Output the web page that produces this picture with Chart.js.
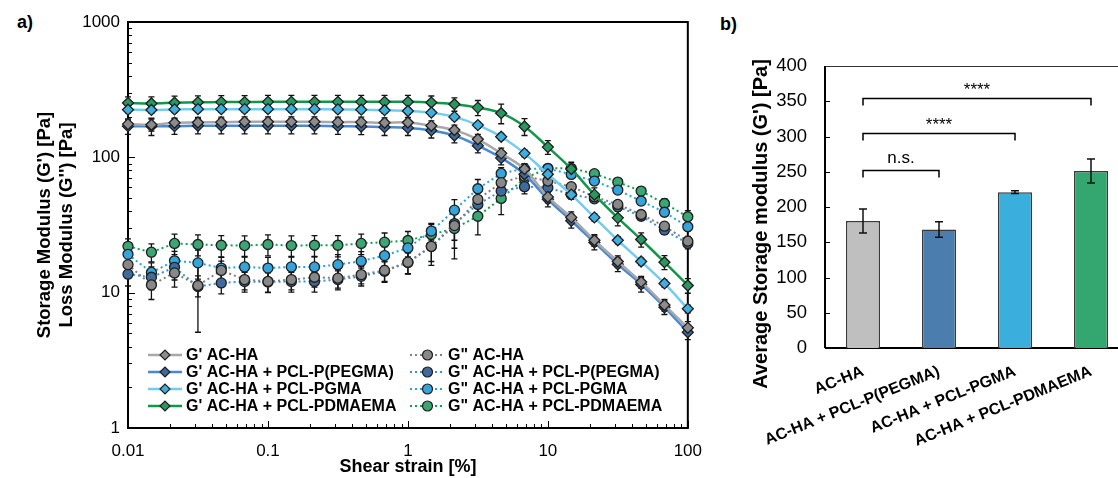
<!DOCTYPE html>
<html>
<head>
<meta charset="utf-8">
<script src="https://cdn.jsdelivr.net/npm/chart.js@4.4.1/dist/chart.umd.min.js"></script>
<style>
  body { margin: 0; width: 1118px; height: 478px; overflow: hidden; background: #fff; position: relative; font-family: "Liberation Sans", Arial, sans-serif; }
  #chartA { position: absolute; left: 0; top: 0; }
  #chartB { position: absolute; left: 715px; top: 0; }
  .panel { position: absolute; font-weight: bold; font-size: 18px; color: #000; }
</style>
</head>
<body>
<div class="panel" style="left:17px;top:12px">a)</div>
<div class="panel" style="left:720px;top:14px">b)</div>
<canvas id="chartA" width="715" height="478"></canvas>
<canvas id="chartB" width="430" height="478"></canvas>
<script>
// ---- panel a data: amplitude sweep ----
const strain = [0.01, 0.0147, 0.0215, 0.0316, 0.0464, 0.0681, 0.1, 0.147, 0.215, 0.316, 0.464, 0.681,
  1, 1.47, 2.15, 3.16, 4.64, 6.81, 10, 14.7, 21.5, 31.6, 46.4, 68.1, 100]
const xTicks = [0.01, 0.1, 1, 10, 100]
const yTicks = [1, 10, 100, 1000]

const gpAcha = [176, 174, 180, 181, 182, 183, 183, 183, 183, 182, 182, 180, 181, 171, 159, 136, 107, 82, 51, 36, 24.4, 17, 12, 8.1, 5.5]
const gpPegma = [170, 170, 170, 171, 171, 171, 171, 171, 171, 170, 169, 167, 165, 158, 145, 122, 99, 75, 49, 34, 23.5, 16.2, 11.5, 7.8, 5.1]
const gpPgma = [225, 224, 226, 227, 227, 227, 227, 227, 227, 226, 225, 223, 220, 214, 199, 173, 142, 107, 75, 53, 36, 24.4, 17, 11.7, 7.6]
const gpPdmaema = [252, 250, 253, 255, 256, 256, 257, 257, 257, 257, 257, 257, 257, 254, 247, 233, 212, 169, 119, 82, 53, 35.7, 24.7, 16.8, 11.3]

const gppAcha = [16.1, 11.4, 14.0, 11.3, 14.6, 12.5, 12.1, 12.5, 13.0, 12.8, 13.6, 14.6, 16.8, 22.0, 31.3, 48.9, 65.0, 72.7, 66.8, 60.7, 51.2, 44.9, 37.8, 31.0, 24.0]
const gppPegma = [13.7, 13.0, 15.4, 11.1, 11.8, 12.1, 12.0, 12.1, 12.1, 12.5, 13.2, 14.4, 16.7, 21.9, 32.4, 44.9, 56.3, 60.7, 59.7, 53.2, 49.4, 43.1, 36.7, 29.0, 23.1]
const gppPgma = [19.2, 14.1, 17.2, 16.6, 15.2, 15.5, 15.2, 15.5, 15.5, 16.1, 17.1, 18.8, 21.4, 28.5, 40.7, 58.6, 76.0, 82.5, 82.5, 74.8, 66.8, 57.3, 47.5, 39.3, 30.7]
const gppPdmaema = [22.0, 19.9, 23.1, 22.7, 22.4, 22.3, 22.7, 22.3, 22.4, 22.4, 23.1, 23.6, 24.3, 26.9, 29.8, 36.7, 49.7, 69.9, 83.0, 83.0, 75.7, 65.6, 56.3, 45.6, 36.4]

// standard deviations, same order
const gpAchaErr = [12, 18, 15, 16, 16, 16, 16, 16, 16, 16, 16, 16, 16, 15, 14, 12, 10, 8, 5, 3.5, 2.4, 1.7, 1.2, 0.8, 0.6]
const gpPegmaErr = [22, 25, 22, 22, 22, 22, 22, 22, 22, 22, 22, 22, 20, 19, 17, 14, 11, 8, 6, 4, 2.8, 1.9, 1.4, 0.9, 0.6]
const gpPgmaErr = [12, 12, 12, 12, 12, 12, 12, 12, 12, 12, 12, 12, 11, 11, 10, 9, 8, 6, 4.5, 3.2, 2.2, 1.5, 1.0, 0.7, 0.5]
const gpPdmaemaErr = [28, 30, 30, 30, 30, 30, 30, 30, 30, 30, 30, 30, 30, 30, 28, 30, 35, 24, 14, 10, 6.5, 4.5, 3, 2, 1.4]
const gppAchaErr = [3, 2.5, 3, 2, 2.5, 2, 2, 2, 2, 2, 2, 2.5, 3, 5, 10, 12, 10, 8, 5, 4, 3, 3, 2.5, 2, 2]
const gppPegmaErr = [2.5, 2.5, 3, 6, 2, 2, 2, 2, 2, 2, 2, 2.5, 3, 6, 8, 10, 8, 7, 12, 4, 3, 3, 2.5, 2, 2]
const gppPgmaErr = [3, 2.5, 3, 4, 3, 3, 3, 3, 3, 3, 3, 3, 3, 4, 8, 10, 8, 6, 5, 4, 3, 3, 3, 2.5, 2]
const gppPdmaemaErr = [3, 3, 4, 4, 4, 4, 4, 4, 4, 4, 4, 4, 4, 5, 12, 10, 12, 8, 5, 4, 4, 4, 4, 4, 4]

// ---- panel b data: average storage modulus ----
const groups = ['AC-HA', 'AC-HA + PCL-P(PEGMA)', 'AC-HA + PCL-PGMA', 'AC-HA + PCL-PDMAEMA']
const avgG = [180, 168, 221, 251]
const avgGErr = [17, 11, 2, 17]
const barTicks = [0, 50, 100, 150, 200, 250, 300, 350, 400]
const sigPairs = [[0, 1], [0, 2], [0, 3]]
const sigLevels = [253, 305, 355]
const sigLabels = ['n.s.', '****', '****']

const FONT = '"Liberation Sans", Arial, sans-serif'
Chart.defaults.font.family = FONT
Chart.defaults.color = '#000'

const pts = arr => arr.map((v, i) => ({ x: strain[i], y: v }))

const gPrime = (label, data, err, line, fill) => ({
  label, data: pts(data), errors: err,
  borderColor: line, backgroundColor: fill, borderWidth: 2.5,
  pointStyle: 'rectRot', pointRadius: 5.5, pointHoverRadius: 5.5,
  pointBackgroundColor: fill, pointBorderColor: '#1e1e1e', pointBorderWidth: 1.3,
  tension: 0.35, clip: false
})
const gDouble = (label, data, err, line, fill) => ({
  label, data: pts(data), errors: err,
  borderColor: line, backgroundColor: fill, borderWidth: 2, borderDash: [2, 3],
  pointStyle: 'circle', pointRadius: 5, pointHoverRadius: 5,
  pointBackgroundColor: fill, pointBorderColor: '#1e1e1e', pointBorderWidth: 1.3,
  tension: 0, clip: false
})

// draws error bars, frame and inward log ticks
const decorA = {
  id: 'decorA',
  beforeDatasetsDraw(chart) {
    const { ctx, chartArea: a, scales: { x, y } } = chart
    ctx.save()
    ctx.strokeStyle = '#000'
    ctx.lineWidth = 1
    for (let k = -2; k < 3; k++) {
      for (let m = 1; m < 10; m++) {
        const px = Math.round(x.getPixelForValue(m * Math.pow(10, k))) + 0.5
        ctx.beginPath(); ctx.moveTo(px, a.bottom); ctx.lineTo(px, a.bottom - (m == 1 ? 7 : 4)); ctx.stroke()
      }
    }
    for (let k = 0; k < 3; k++) {
      for (let m = 1; m < 10; m++) {
        const py = Math.round(y.getPixelForValue(m * Math.pow(10, k))) + 0.5
        ctx.beginPath(); ctx.moveTo(a.left, py); ctx.lineTo(a.left + (m == 1 ? 7 : 4), py); ctx.stroke()
      }
    }
    ctx.lineWidth = 2
    ctx.strokeRect(a.left, a.top, a.width, a.height)

    // error bars
    ctx.strokeStyle = '#111'
    ctx.lineWidth = 1.3
    chart.data.datasets.forEach((ds, di) => {
      const meta = chart.getDatasetMeta(di)
      meta.data.forEach((pt, i) => {
        const v = ds.data[i].y, e = ds.errors[i]
        const top = y.getPixelForValue(v + e)
        const bot = y.getPixelForValue(Math.max(v - e, 1.05))
        ctx.beginPath()
        ctx.moveTo(pt.x, top); ctx.lineTo(pt.x, bot)
        ctx.moveTo(pt.x - 3, top); ctx.lineTo(pt.x + 3, top)
        ctx.moveTo(pt.x - 3, bot); ctx.lineTo(pt.x + 3, bot)
        ctx.stroke()
      })
    })
    ctx.restore()
  },
  afterDatasetsDraw(chart) {
    // legend in two columns inside the plot
    const { ctx } = chart
    const cols = [{ x0: 148, x1: 182, tx: 186 }, { x0: 410, x1: 445, tx: 448 }]
    const rows = [355, 372, 389, 406]
    ctx.save()
    ctx.font = 'bold 16px ' + FONT
    ctx.textBaseline = 'middle'
    ctx.fillStyle = '#000'
    chart.data.datasets.forEach((ds, di) => {
      const c = cols[Math.floor(di / 4)], ry = rows[di % 4]
      ctx.strokeStyle = ds.borderColor
      ctx.lineWidth = ds.borderWidth
      ctx.setLineDash(ds.borderDash || [])
      ctx.beginPath(); ctx.moveTo(c.x0, ry); ctx.lineTo(c.x1, ry); ctx.stroke()
      ctx.setLineDash([])
      ctx.fillStyle = ds.pointBackgroundColor
      ctx.strokeStyle = ds.pointBorderColor
      ctx.lineWidth = 1.2
      Chart.helpers.drawPoint(ctx, { pointStyle: ds.pointStyle, radius: 5, borderWidth: 1.2 }, (c.x0 + c.x1) / 2, ry)
      ctx.fillStyle = '#000'
      ctx.fillText(ds.label, c.tx, ry + 1)
    })
    ctx.restore()
  }
}

new Chart(document.getElementById('chartA'), {
  type: 'line',
  data: {
    datasets: [
      gPrime("G' AC-HA", gpAcha, gpAchaErr, '#a8a8a8', '#8c8c8c'),
      gPrime("G' AC-HA + PCL-P(PEGMA)", gpPegma, gpPegmaErr, '#4a88d2', '#3c6aa0'),
      gPrime("G' AC-HA + PCL-PGMA", gpPgma, gpPgmaErr, '#72ccf2', '#3db0e0'),
      gPrime("G' AC-HA + PCL-PDMAEMA", gpPdmaema, gpPdmaemaErr, '#12964a', '#2a9660'),
      gDouble('G" AC-HA', gppAcha, gppAchaErr, '#7f7f7f', '#888888'),
      gDouble('G" AC-HA + PCL-P(PEGMA)', gppPegma, gppPegmaErr, '#3d8fd8', '#3e6b9e'),
      gDouble('G" AC-HA + PCL-PGMA', gppPgma, gppPgmaErr, '#22a4e0', '#35a4da'),
      gDouble('G" AC-HA + PCL-PDMAEMA', gppPdmaema, gppPdmaemaErr, '#10a050', '#3aa673')
    ]
  },
  options: {
    responsive: false,
    animation: false,
    layout: { padding: { left: 0, top: 22, right: 16, bottom: 0 } },
    plugins: { legend: { display: false }, tooltip: { enabled: false } },
    scales: {
      x: {
        type: 'logarithmic', min: 0.01, max: 100,
        grid: { display: false, drawTicks: false }, border: { display: false },
        afterBuildTicks: s => { s.ticks = xTicks.map(v => ({ value: v })) },
        afterFit: s => { s.height = 50 },
        ticks: { font: { size: 17 }, padding: 13, maxRotation: 0, callback: v => String(v) },
        title: { display: true, text: 'Shear strain [%]', font: { size: 18, weight: 'bold' }, padding: { top: 0, bottom: 0 } }
      },
      y: {
        type: 'logarithmic', min: 1, max: 1000,
        grid: { display: false, drawTicks: false }, border: { display: false },
        afterBuildTicks: s => { s.ticks = yTicks.map(v => ({ value: v })) },
        afterFit: s => { s.width = 128 },
        ticks: { font: { size: 17 }, padding: 8, callback: v => String(v) },
        title: {
          display: true, text: ["Storage Modulus (G') [Pa]", "Loss Modulus (G'') [Pa]"],
          font: { size: 18.5, weight: 'bold', lineHeight: 1.2 }, padding: { top: 34, bottom: 0 }
        }
      }
    }
  },
  plugins: [decorA]
})

// ---- panel b ----
const decorB = {
  id: 'decorB',
  beforeDatasetsDraw(chart) {
    const { ctx, chartArea: a, scales: { y } } = chart
    ctx.save()
    ctx.strokeStyle = '#000'
    ctx.lineWidth = 1
    barTicks.forEach(t => {
      const py = Math.round(y.getPixelForValue(t)) + 0.5
      ctx.beginPath(); ctx.moveTo(a.left, py); ctx.lineTo(a.left + 5, py); ctx.stroke()
    })
    ctx.strokeStyle = '#333'
    ctx.beginPath(); ctx.moveTo(a.left, a.top + 0.5); ctx.lineTo(a.right, a.top + 0.5); ctx.stroke()
    ctx.strokeStyle = '#000'
    ctx.lineWidth = 2
    ctx.beginPath(); ctx.moveTo(a.left, a.top); ctx.lineTo(a.left, a.bottom); ctx.stroke()
    ctx.beginPath(); ctx.moveTo(a.left, a.bottom); ctx.lineTo(a.right, a.bottom); ctx.stroke()
    // axis title, sits a little lower than the plot centre
    ctx.translate(46, 224)
    ctx.rotate(-Math.PI / 2)
    ctx.font = 'bold 20px ' + FONT
    ctx.fillStyle = '#000'
    ctx.textAlign = 'center'
    ctx.textBaseline = 'middle'
    ctx.fillText("Average Storage modulus (G') [Pa]", 0, 0)
    ctx.restore()
  },
  afterDatasetsDraw(chart) {
    const { ctx, scales: { x, y } } = chart
    ctx.save()
    ctx.strokeStyle = '#111'
    ctx.lineWidth = 1.5
    avgG.forEach((v, i) => {
      const px = x.getPixelForValue(i)
      const top = y.getPixelForValue(v + avgGErr[i]), bot = y.getPixelForValue(v - avgGErr[i])
      ctx.beginPath()
      ctx.moveTo(px, top); ctx.lineTo(px, bot)
      ctx.moveTo(px - 4, top); ctx.lineTo(px + 4, top)
      ctx.moveTo(px - 4, bot); ctx.lineTo(px + 4, bot)
      ctx.stroke()
    })
    // significance brackets
    ctx.strokeStyle = '#000'
    ctx.fillStyle = '#000'
    ctx.font = '17px ' + FONT
    ctx.textAlign = 'center'
    ctx.textBaseline = 'alphabetic'
    sigPairs.forEach((p, i) => {
      const x0 = x.getPixelForValue(p[0]), x1 = x.getPixelForValue(p[1])
      const yy = Math.round(y.getPixelForValue(sigLevels[i])) + 0.5
      ctx.beginPath()
      ctx.moveTo(x0, yy + 7); ctx.lineTo(x0, yy); ctx.lineTo(x1, yy); ctx.lineTo(x1, yy + 7)
      ctx.stroke()
      ctx.fillText(sigLabels[i], (x0 + x1) / 2, yy - (sigLabels[i] == 'n.s.' ? 8 : 4))
    })
    ctx.restore()
  }
}

new Chart(document.getElementById('chartB'), {
  type: 'bar',
  data: {
    labels: groups,
    datasets: [{
      data: avgG,
      backgroundColor: ['#bfbfbf', '#4b7eaf', '#3aaedc', '#34a66f'],
      borderColor: '#3a3a3a', borderWidth: 1.5,
      barPercentage: 0.45, categoryPercentage: 1
    }]
  },
  options: {
    responsive: false,
    animation: false,
    layout: { padding: { left: 0, top: 66, right: 16, bottom: 0 } },
    plugins: { legend: { display: false }, tooltip: { enabled: false } },
    scales: {
      x: {
        grid: { display: false, drawTicks: false }, border: { display: false },
        afterFit: s => { s.height = 130 },
        ticks: { font: { size: 16, weight: 'bold' }, minRotation: 22, maxRotation: 22, autoSkip: false, padding: 14 }
      },
      y: {
        min: 0, max: 400,
        grid: { display: false, drawTicks: false }, border: { display: false },
        afterBuildTicks: s => { s.ticks = barTicks.map(v => ({ value: v })) },
        afterFit: s => { s.width = 110 },
        ticks: { font: { size: 18.5 }, padding: 18 }
      }
    }
  },
  plugins: [decorB]
})
</script>
</body>
</html>
